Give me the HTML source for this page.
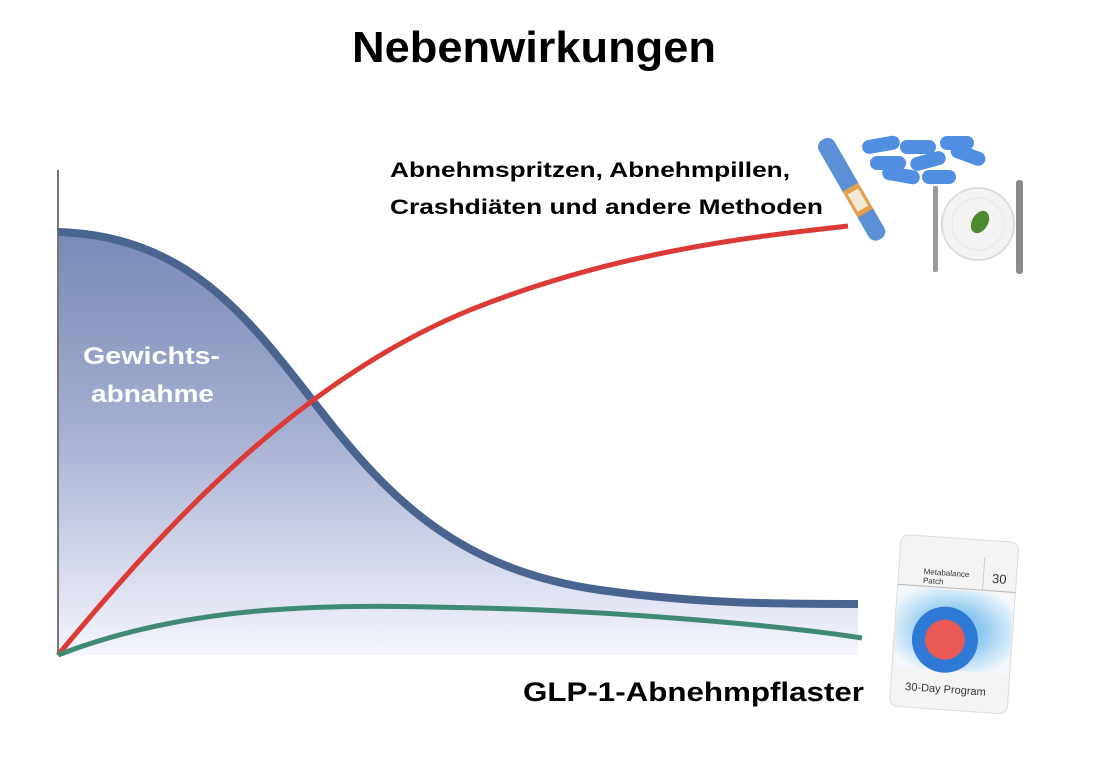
<!DOCTYPE html>
<html><head><meta charset="utf-8"><style>
body{margin:0;background:#fff;}
svg{display:block;font-family:"Liberation Sans",sans-serif;}
</style></head><body>
<svg width="1106" height="772" viewBox="0 0 1106 772">
<defs>
<linearGradient id="fg" x1="0" y1="0" x2="0" y2="1">
<stop offset="0" stop-color="#7a8ab5"/>
<stop offset="0.45" stop-color="#a3add0"/>
<stop offset="1" stop-color="#f4f5fd"/>
</linearGradient>
<radialGradient id="pg" cx="0.5" cy="0.5" r="0.6">
<stop offset="0.4" stop-color="#8cc8f0"/><stop offset="1" stop-color="#f4f8fc"/>
</radialGradient>
</defs>
<text x="352" y="62" font-size="44" font-weight="bold" fill="#000" textLength="364" lengthAdjust="spacingAndGlyphs">Nebenwirkungen</text>
<path d="M58,232 C190,236 250,320 320,410 C390,500 460,570 600,590 C700,604 780,604 858,604 L858,655 L58,655 Z" fill="url(#fg)"/>
<line x1="58" y1="170" x2="58" y2="655" stroke="#777" stroke-width="2"/>
<path d="M58,232 C190,236 250,320 320,410 C390,500 460,570 600,590 C700,604 780,604 858,604" fill="none" stroke="#4a6490" stroke-width="8"/>
<path d="M58,655 C170,520 300,380 470,310 C620,250 760,236 848,226" fill="none" stroke="#dc3a35" stroke-width="5"/>
<path d="M58,655 C200,600 350,605 480,608 C610,611 780,625 862,638" fill="none" stroke="#3f8a74" stroke-width="5"/>
<text x="83" y="364" font-size="24" font-weight="bold" fill="#fff" textLength="137" lengthAdjust="spacingAndGlyphs">Gewichts-</text>
<text x="91" y="402" font-size="24" font-weight="bold" fill="#fff" textLength="123" lengthAdjust="spacingAndGlyphs">abnahme</text>
<text x="390" y="177" font-size="21" font-weight="bold" fill="#000" textLength="400" lengthAdjust="spacingAndGlyphs">Abnehmspritzen, Abnehmpillen,</text>
<text x="390" y="214" font-size="21" font-weight="bold" fill="#000" textLength="433" lengthAdjust="spacingAndGlyphs">Crashdiäten und andere Methoden</text>
<text x="523" y="701" font-size="27" font-weight="bold" fill="#000" textLength="341" lengthAdjust="spacingAndGlyphs">GLP-1-Abnehmpflaster</text>
<g transform="translate(822,140) rotate(-30)">
<rect x="-8" y="0" width="18" height="115" rx="8" fill="#5b8fd6"/>
<rect x="-8" y="55" width="18" height="30" fill="#e7a04a"/>
<rect x="-5" y="60" width="12" height="20" fill="#f3ead8"/>
</g>
<g fill="#4f8ee0">
<rect x="862" y="138" width="38" height="14" rx="7" transform="rotate(-10 880 145)"/>
<rect x="900" y="140" width="36" height="14" rx="7"/>
<rect x="940" y="136" width="34" height="14" rx="7"/>
<rect x="870" y="156" width="36" height="14" rx="7"/>
<rect x="910" y="154" width="36" height="14" rx="7" transform="rotate(-15 928 161)"/>
<rect x="950" y="148" width="36" height="14" rx="7" transform="rotate(20 968 155)"/>
<rect x="882" y="168" width="38" height="14" rx="7" transform="rotate(10 900 175)"/>
<rect x="922" y="170" width="34" height="14" rx="7"/>
</g>
<rect x="933" y="186" width="5" height="86" rx="2" fill="#9a9a9a"/>
<circle cx="978" cy="224" r="36" fill="#f3f3f3" stroke="#ddd" stroke-width="2"/>
<circle cx="978" cy="224" r="26" fill="none" stroke="#e6e6e6"/>
<ellipse cx="980" cy="222" rx="8" ry="12" fill="#4c8a2e" transform="rotate(30 980 222)"/>
<rect x="1016" y="180" width="7" height="94" rx="3" fill="#8a8a8a"/>
<g transform="rotate(4 950 625)">
<rect x="895" y="538" width="118" height="172" rx="8" fill="#f4f4f4" stroke="#ddd"/>
<rect x="896" y="590" width="116" height="80" fill="url(#pg)"/>
<line x1="895" y1="588" x2="1013" y2="588" stroke="#bbb"/>
<line x1="980" y1="555" x2="980" y2="588" stroke="#ccc"/>
<text x="920" y="576" font-size="8" fill="#333">Metabalance</text>
<text x="920" y="585" font-size="8" fill="#333">Patch</text>
<text x="996" y="580" font-size="13" fill="#333" text-anchor="middle">30</text>
<circle cx="946" cy="640" r="33" fill="#2f7ad6"/>
<circle cx="946" cy="640" r="20" fill="#ea5a55"/>
<text x="950" y="693" font-size="11" fill="#333" text-anchor="middle">30-Day Program</text>
</g>
</svg>
</body></html>
